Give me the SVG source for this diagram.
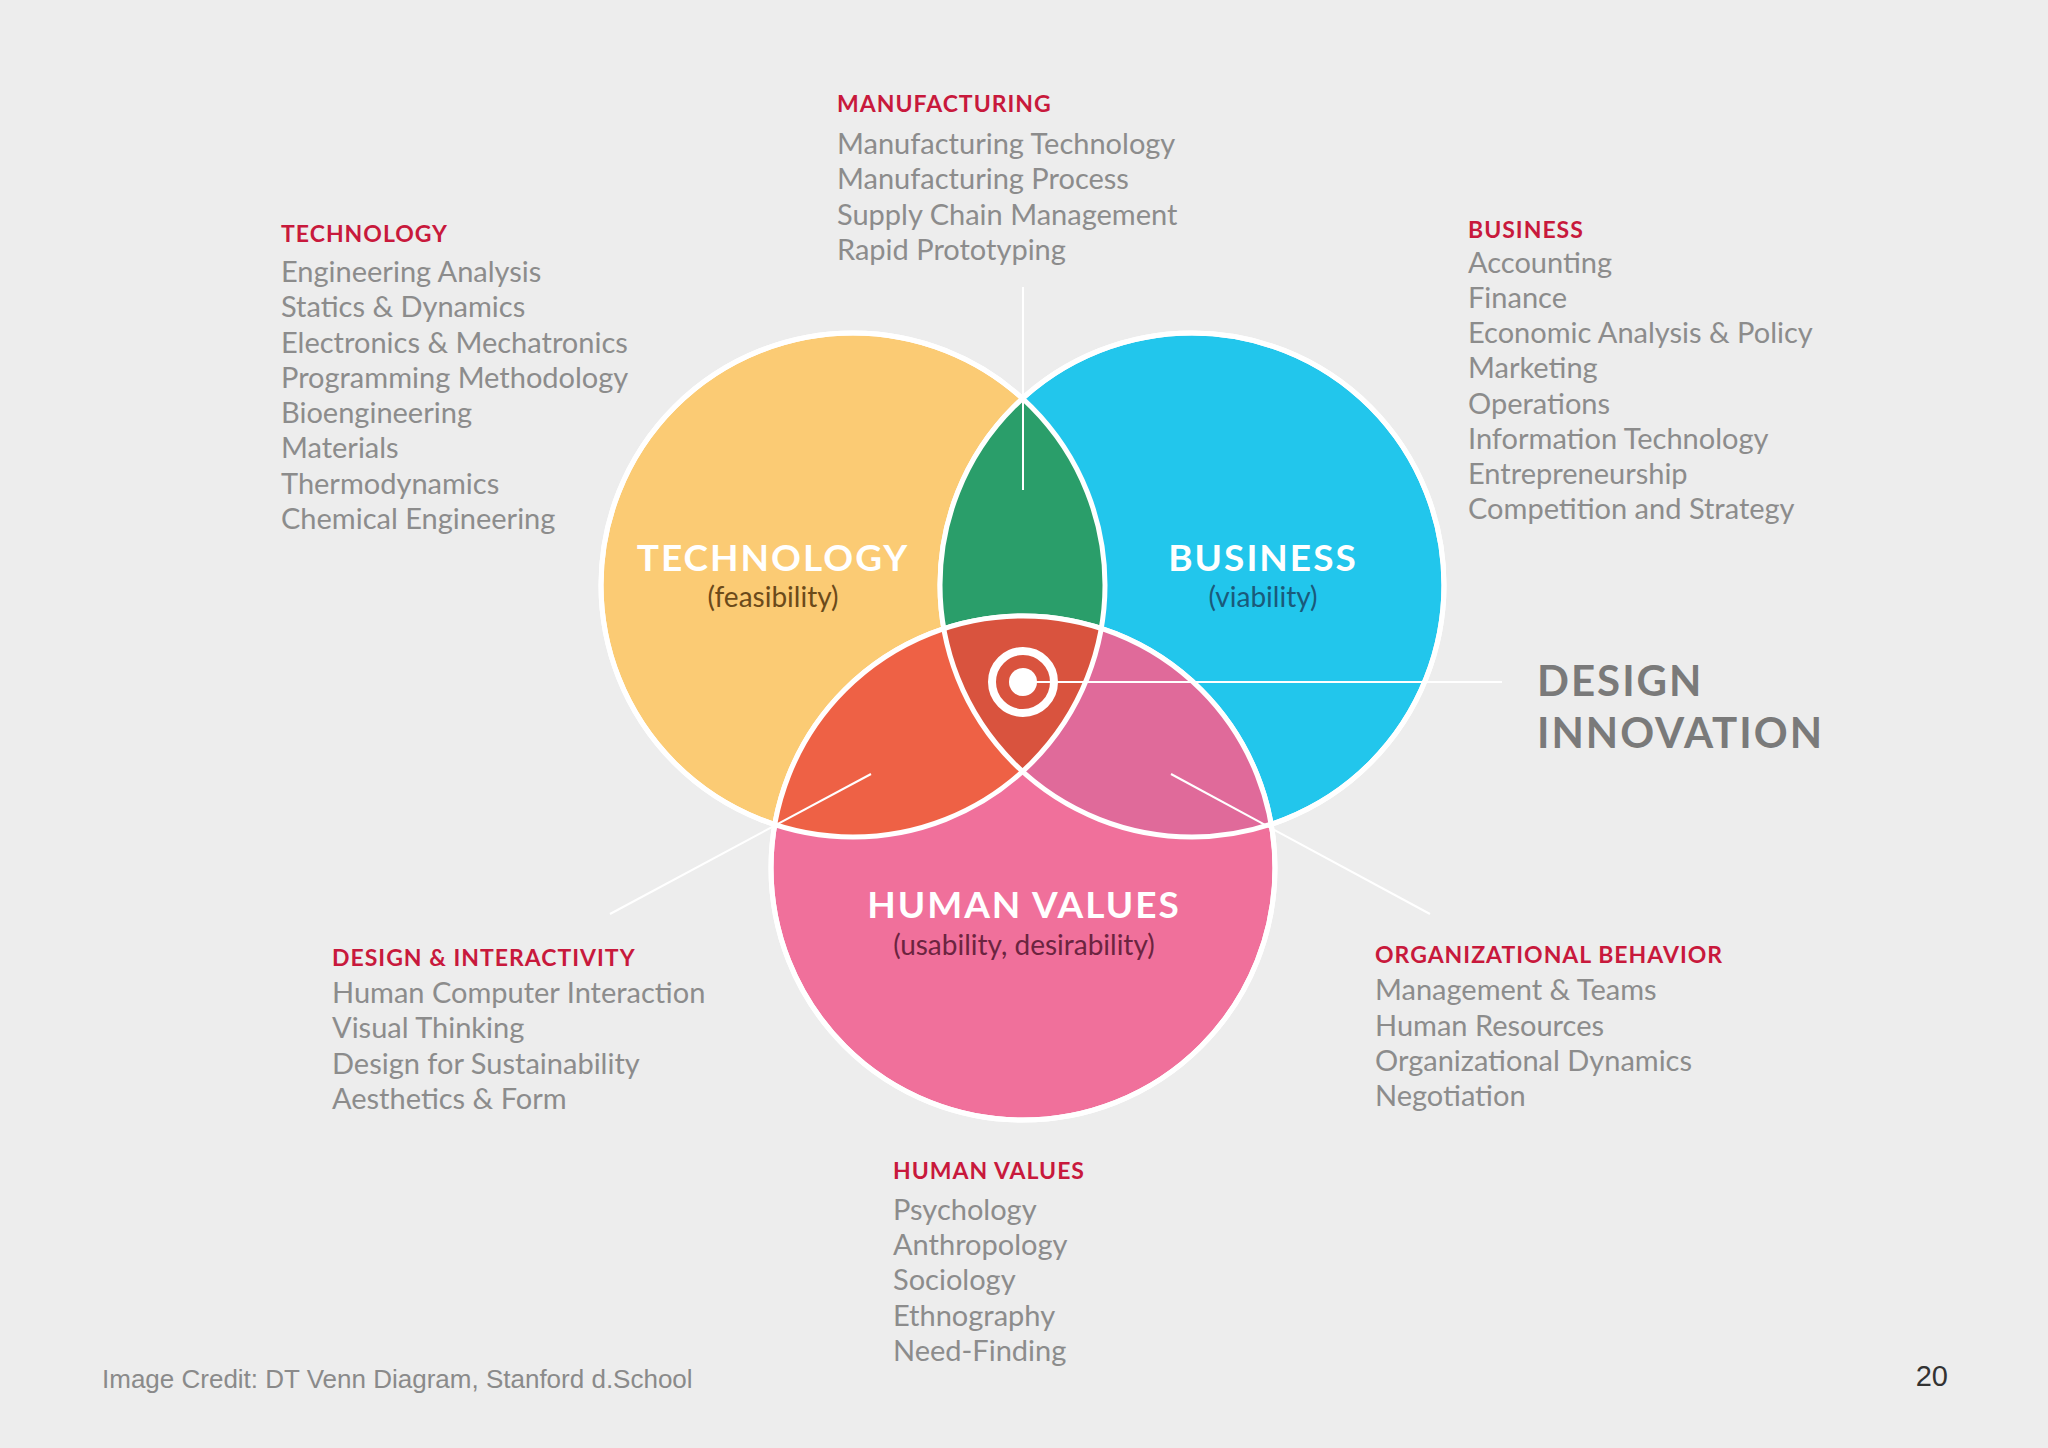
<svg xmlns="http://www.w3.org/2000/svg" width="2048" height="1448" viewBox="0 0 2048 1448">
<style>
.h{font-family:Lato,"Open Sans",sans-serif;font-weight:bold;font-size:23px;fill:#C8193C;letter-spacing:1px}
.i{font-family:Lato,"Open Sans",sans-serif;font-size:29px;fill:#8C8C8C}
.t{font-family:Lato,"Open Sans",sans-serif;font-weight:bold;font-size:37px;fill:#fff;text-anchor:middle;letter-spacing:2px}
.s{font-family:Lato,"Open Sans",sans-serif;font-size:28px;text-anchor:middle}
.ln{stroke:#fff;stroke-width:2;fill:none}
</style>
<defs>
<clipPath id="cT"><circle cx="853" cy="585" r="252"/></clipPath>
<clipPath id="cB"><circle cx="1192" cy="585" r="252"/></clipPath>
<clipPath id="cTB" clip-path="url(#cT)"><circle cx="1192" cy="585" r="252"/></clipPath>
</defs>
<rect width="2048" height="1448" fill="#EDEDED"/>
<g id="circles">
<circle id="tech" cx="853" cy="585" r="252" fill="#FBCB74" stroke="#fff" stroke-width="5"/>
<circle id="business" cx="1192" cy="585" r="252" fill="#22C6EC" stroke="#fff" stroke-width="5"/>
<circle cx="1192" cy="585" r="252" fill="#2A9E6A" clip-path="url(#cT)"/>
<circle id="human" cx="1023" cy="868" r="252" fill="#F0709B" stroke="#fff" stroke-width="5"/>
<circle cx="1023" cy="868" r="252" fill="#EE6145" clip-path="url(#cT)"/>
<circle cx="1023" cy="868" r="252" fill="#E06A9A" clip-path="url(#cB)"/>
<circle cx="1023" cy="868" r="252" fill="#D9533E" clip-path="url(#cTB)"/>
<g fill="none" stroke="#fff" stroke-width="5">
<circle cx="853" cy="585" r="252"/><circle cx="1192" cy="585" r="252"/><circle cx="1023" cy="868" r="252"/>
</g>
</g>
<g id="connectors">
<line x1="1023" y1="287" x2="1023" y2="490" stroke="#fff" stroke-width="2"/>
<line x1="871" y1="774" x2="610" y2="914" class="ln"/>
<line x1="1171" y1="774" x2="1430" y2="914" class="ln"/>
<line x1="1023" y1="682" x2="1502" y2="682" class="ln"/>
</g>
<g id="target">
<circle cx="1023" cy="682" r="31" fill="none" stroke="#fff" stroke-width="8"/>
<circle cx="1023" cy="682" r="14" fill="#fff"/>
</g>
<g id="labels">
<text class="t" x="773" y="571">TECHNOLOGY</text>
<text class="s" x="773" y="607" fill="#6B4A1A">(feasibility)</text>
<text class="t" x="1263" y="571">BUSINESS</text>
<text class="s" x="1263" y="607" fill="#1A5A7A">(viability)</text>
<text class="t" x="1024" y="918">HUMAN VALUES</text>
<text class="s" x="1024" y="955" fill="#6B2440">(usability, desirability)</text>
</g>
<g id="design-innovation" font-family="Lato,'Open Sans',sans-serif" font-weight="bold" font-size="42" fill="#7A7A7A" letter-spacing="2">
<text x="1537" y="696">DESIGN</text><text x="1537" y="748">INNOVATION</text>
</g>
<g id="manufacturing">
<text class="h" x="837" y="112">MANUFACTURING</text>
<text class="i" x="837" y="154">Manufacturing Technology</text>
<text class="i" x="837" y="189">Manufacturing Process</text>
<text class="i" x="837" y="225">Supply Chain Management</text>
<text class="i" x="837" y="260">Rapid Prototyping</text>
</g>
<g id="technology">
<text class="h" x="281" y="242">TECHNOLOGY</text>
<text class="i" x="281" y="282">Engineering Analysis</text>
<text class="i" x="281" y="317">Statics &amp; Dynamics</text>
<text class="i" x="281" y="353">Electronics &amp; Mechatronics</text>
<text class="i" x="281" y="388">Programming Methodology</text>
<text class="i" x="281" y="423">Bioengineering</text>
<text class="i" x="281" y="458">Materials</text>
<text class="i" x="281" y="494">Thermodynamics</text>
<text class="i" x="281" y="529">Chemical Engineering</text>
</g>
<g id="business-list">
<text class="h" x="1468" y="238">BUSINESS</text>
<text class="i" x="1468" y="273">Accounting</text>
<text class="i" x="1468" y="308">Finance</text>
<text class="i" x="1468" y="343">Economic Analysis &amp; Policy</text>
<text class="i" x="1468" y="378">Marketing</text>
<text class="i" x="1468" y="414">Operations</text>
<text class="i" x="1468" y="449">Information Technology</text>
<text class="i" x="1468" y="484">Entrepreneurship</text>
<text class="i" x="1468" y="519">Competition and Strategy</text>
</g>
<g id="design-interactivity">
<text class="h" x="332" y="966">DESIGN &amp; INTERACTIVITY</text>
<text class="i" x="332" y="1003">Human Computer Interaction</text>
<text class="i" x="332" y="1038">Visual Thinking</text>
<text class="i" x="332" y="1074">Design for Sustainability</text>
<text class="i" x="332" y="1109">Aesthetics &amp; Form</text>
</g>
<g id="org-behavior">
<text class="h" x="1375" y="963">ORGANIZATIONAL BEHAVIOR</text>
<text class="i" x="1375" y="1000">Management &amp; Teams</text>
<text class="i" x="1375" y="1036">Human Resources</text>
<text class="i" x="1375" y="1071">Organizational Dynamics</text>
<text class="i" x="1375" y="1106">Negotiation</text>
</g>
<g id="human-values-list">
<text class="h" x="893" y="1179">HUMAN VALUES</text>
<text class="i" x="893" y="1220">Psychology</text>
<text class="i" x="893" y="1255">Anthropology</text>
<text class="i" x="893" y="1290">Sociology</text>
<text class="i" x="893" y="1326">Ethnography</text>
<text class="i" x="893" y="1361">Need-Finding</text>
</g>
<g id="footer" font-family="'Liberation Sans',Arial,sans-serif" font-size="26">
<text x="102" y="1388" fill="#8A8A8A">Image Credit: DT Venn Diagram, Stanford d.School</text>
<text x="1948" y="1386" fill="#333" text-anchor="end" font-size="29">20</text>
</g>
</svg>
